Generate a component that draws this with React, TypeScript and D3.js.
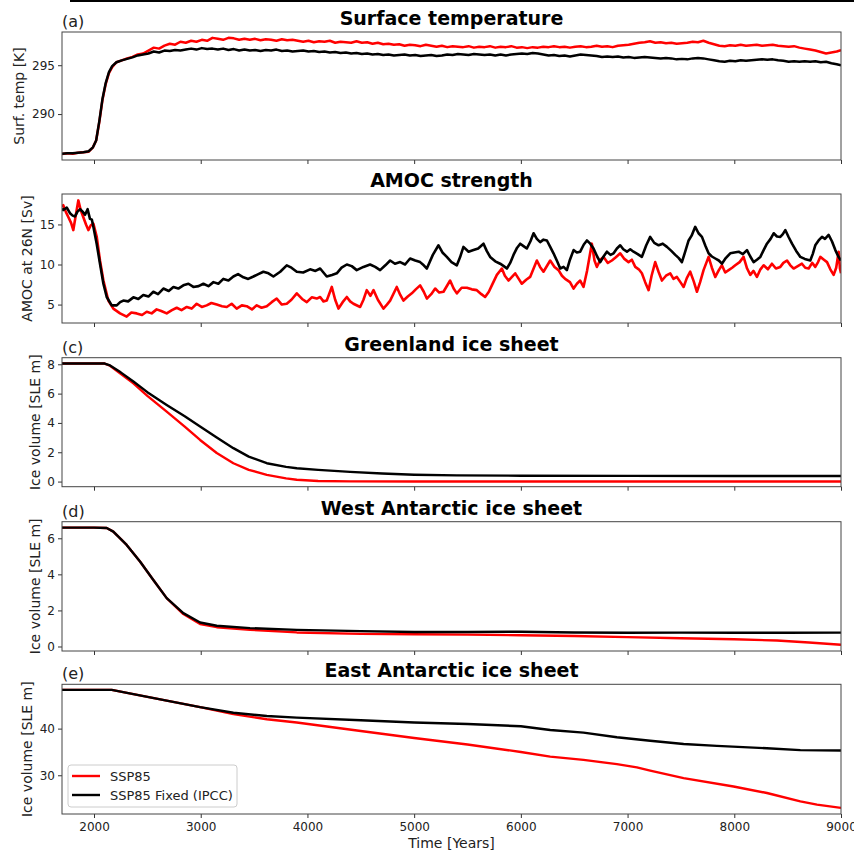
import React, { useRef, useEffect } from 'react';
import * as d3 from 'd3';

// x axis
const xTicks = [2000, 3000, 4000, 5000, 6000, 7000, 8000, 9000];

// (a) surface temperature [K], [year, value]
const tempRed = [
  [1700, 285.9], [1750, 286.0], [1800, 285.95], [1850, 286.05], [1900, 286.1], [1950, 286.15], [1990, 286.6],
  [2020, 287.3], [2050, 289.2], [2080, 291.5], [2110, 293.1], [2140, 294.2], [2170, 294.8], [2210, 295.3],
  [2260, 295.5], [2310, 295.7], [2360, 295.85], [2410, 296.1], [2460, 296.2], [2510, 296.5], [2560, 296.8],
  [2610, 296.7], [2660, 297.0], [2710, 297.2], [2760, 297.1], [2810, 297.4], [2860, 297.3], [2910, 297.5],
  [2960, 297.4], [3010, 297.6], [3060, 297.5], [3110, 297.8], [3160, 297.7], [3210, 297.6], [3260, 297.8],
  [3310, 297.75], [3360, 297.6], [3410, 297.7], [3460, 297.6], [3510, 297.7], [3560, 297.55], [3610, 297.65],
  [3660, 297.6], [3710, 297.5], [3760, 297.65], [3810, 297.55], [3860, 297.6], [3910, 297.5], [3960, 297.4],
  [4010, 297.5], [4060, 297.35], [4110, 297.45], [4160, 297.4], [4210, 297.5], [4260, 297.3], [4310, 297.4],
  [4360, 297.35], [4410, 297.3], [4460, 297.45], [4510, 297.3], [4560, 297.35], [4610, 297.2], [4660, 297.3],
  [4710, 297.15], [4760, 297.2], [4810, 297.1], [4860, 297.15], [4910, 297.0], [4960, 297.1], [5010, 297.05],
  [5060, 296.95], [5110, 297.1], [5160, 297.0], [5210, 296.9], [5260, 297.0], [5310, 296.85], [5360, 296.95],
  [5410, 296.9], [5460, 296.85], [5510, 296.95], [5560, 296.8], [5610, 296.9], [5660, 296.85], [5710, 296.95],
  [5760, 296.8], [5810, 296.9], [5860, 296.85], [5910, 296.95], [5960, 296.8], [6010, 296.85], [6060, 296.75],
  [6110, 296.85], [6160, 296.8], [6210, 296.9], [6260, 296.85], [6310, 296.95], [6360, 296.85], [6410, 296.9],
  [6460, 296.8], [6510, 296.9], [6560, 296.95], [6610, 296.85], [6660, 296.9], [6710, 297.0], [6760, 296.9],
  [6810, 296.95], [6860, 296.85], [6910, 297.0], [6960, 297.05], [7010, 297.1], [7060, 297.2], [7110, 297.3],
  [7160, 297.35], [7210, 297.45], [7260, 297.3], [7310, 297.35], [7360, 297.25], [7410, 297.3], [7460, 297.2],
  [7510, 297.25], [7560, 297.3], [7610, 297.4], [7660, 297.35], [7710, 297.5], [7760, 297.3], [7810, 297.15],
  [7860, 297.0], [7910, 296.95], [7960, 297.05], [8010, 297.0], [8060, 297.1], [8110, 297.0], [8160, 297.05],
  [8210, 297.1], [8260, 297.0], [8310, 297.05], [8360, 297.1], [8410, 297.0], [8460, 296.95], [8510, 296.9],
  [8560, 296.95], [8610, 296.8], [8660, 296.7], [8710, 296.6], [8760, 296.5], [8810, 296.35], [8860, 296.2],
  [8910, 296.3], [8960, 296.4], [9000, 296.55],
];
const tempBlack = [
  [1700, 285.95], [1750, 286.0], [1800, 286.0], [1850, 286.05], [1900, 286.1], [1950, 286.2], [1990, 286.6],
  [2020, 287.3], [2050, 289.3], [2080, 291.6], [2110, 293.2], [2140, 294.3], [2170, 294.9], [2210, 295.3],
  [2260, 295.5], [2310, 295.65], [2360, 295.8], [2410, 296.0], [2460, 296.1], [2510, 296.2], [2560, 296.4],
  [2610, 296.3], [2660, 296.5], [2710, 296.45], [2760, 296.55], [2810, 296.5], [2860, 296.6], [2910, 296.7],
  [2960, 296.6], [3010, 296.75], [3060, 296.65], [3110, 296.7], [3160, 296.6], [3210, 296.7], [3260, 296.55],
  [3310, 296.65], [3360, 296.5], [3410, 296.6], [3460, 296.5], [3510, 296.55], [3560, 296.45], [3610, 296.55],
  [3660, 296.5], [3710, 296.6], [3760, 296.45], [3810, 296.5], [3860, 296.4], [3910, 296.45], [3960, 296.5],
  [4010, 296.4], [4060, 296.45], [4110, 296.35], [4160, 296.4], [4210, 296.3], [4260, 296.35], [4310, 296.25],
  [4360, 296.3], [4410, 296.2], [4460, 296.25], [4510, 296.15], [4560, 296.2], [4610, 296.1], [4660, 296.15],
  [4710, 296.05], [4760, 296.1], [4810, 296.0], [4860, 296.05], [4910, 296.1], [4960, 296.0], [5010, 296.05],
  [5060, 295.95], [5110, 296.0], [5160, 296.05], [5210, 295.95], [5260, 296.0], [5310, 296.1], [5360, 296.05],
  [5410, 296.15], [5460, 296.1], [5510, 296.05], [5560, 296.15], [5610, 296.1], [5660, 296.05], [5710, 296.1],
  [5760, 296.0], [5810, 296.1], [5860, 296.0], [5910, 296.1], [5960, 296.15], [6010, 296.2], [6060, 296.15],
  [6110, 296.25], [6160, 296.2], [6210, 296.1], [6260, 296.0], [6310, 296.05], [6360, 295.95], [6410, 296.0],
  [6460, 295.9], [6510, 296.0], [6560, 296.1], [6610, 296.05], [6660, 296.0], [6710, 295.95], [6760, 295.85],
  [6810, 295.9], [6860, 295.85], [6910, 295.9], [6960, 295.8], [7010, 295.85], [7060, 295.75], [7110, 295.8],
  [7160, 295.85], [7210, 295.8], [7260, 295.75], [7310, 295.7], [7360, 295.75], [7410, 295.7], [7460, 295.6],
  [7510, 295.65], [7560, 295.6], [7610, 295.7], [7660, 295.75], [7710, 295.7], [7760, 295.6], [7810, 295.5],
  [7860, 295.4], [7910, 295.35], [7960, 295.45], [8010, 295.4], [8060, 295.5], [8110, 295.45], [8160, 295.5],
  [8210, 295.55], [8260, 295.6], [8310, 295.55], [8360, 295.6], [8410, 295.5], [8460, 295.45], [8510, 295.35],
  [8560, 295.4], [8610, 295.35], [8660, 295.4], [8710, 295.35], [8760, 295.4], [8810, 295.3], [8860, 295.35],
  [8910, 295.2], [8960, 295.1], [9000, 295.0],
];

// (b) AMOC at 26N [Sv]
const amocRed = [
  [1700, 17.2], [1712, 17.4], [1735, 16.6], [1760, 15.9], [1785, 15.2], [1806, 14.3], [1830, 16.2], [1853, 18.0],
  [1875, 16.8], [1900, 15.9], [1925, 15.0], [1947, 14.3], [1970, 14.9], [1994, 15.1], [2025, 13.5], [2056, 10.5],
  [2088, 8.0], [2134, 5.5], [2181, 4.5], [2244, 3.9], [2306, 3.5], [2350, 4.0], [2400, 3.9], [2450, 3.7],
  [2494, 4.1], [2540, 3.9], [2587, 4.4], [2630, 4.2], [2681, 3.9], [2730, 4.3], [2775, 4.6], [2820, 4.3],
  [2869, 4.7], [2915, 4.5], [2962, 5.1], [3010, 4.7], [3056, 4.9], [3100, 5.2], [3150, 5.0], [3200, 4.8],
  [3244, 4.7], [3290, 5.1], [3337, 4.5], [3385, 4.9], [3431, 4.8], [3480, 4.4], [3525, 4.9], [3570, 4.6],
  [3619, 4.8], [3665, 5.3], [3712, 5.75], [3760, 5.0], [3806, 5.1], [3850, 5.6], [3900, 6.4], [3950, 5.7],
  [3994, 5.3], [4040, 5.9], [4087, 5.75], [4119, 5.95], [4150, 5.4], [4181, 5.5], [4228, 7.2], [4260, 5.6],
  [4291, 4.5], [4330, 5.3], [4369, 5.95], [4400, 5.4], [4431, 5.1], [4494, 4.7], [4525, 5.6], [4556, 6.8],
  [4590, 6.1], [4619, 6.8], [4660, 5.6], [4712, 4.5], [4745, 5.0], [4775, 5.5], [4837, 7.2], [4870, 6.2],
  [4900, 5.5], [4940, 6.0], [4978, 6.4], [5015, 6.9], [5056, 7.4], [5090, 6.6], [5119, 5.75], [5160, 6.3],
  [5197, 7.0], [5235, 6.5], [5275, 6.6], [5337, 8.0], [5370, 7.0], [5400, 6.4], [5445, 7.1], [5494, 7.1],
  [5540, 6.9], [5587, 6.8], [5630, 6.3], [5665, 5.95], [5700, 6.6], [5728, 7.4], [5775, 8.7], [5822, 9.5],
  [5850, 8.6], [5884, 8.0], [5947, 8.9], [5980, 8.2], [6009, 7.6], [6050, 8.1], [6087, 8.45], [6150, 10.5],
  [6180, 9.7], [6212, 9.1], [6275, 10.5], [6315, 9.7], [6353, 9.3], [6385, 8.6], [6415, 8.2], [6460, 7.8],
  [6494, 7.0], [6525, 7.6], [6556, 8.0], [6587, 7.2], [6620, 9.2], [6665, 12.6], [6690, 10.5], [6712, 9.7],
  [6745, 10.6], [6775, 10.95], [6815, 10.2], [6853, 10.5], [6890, 10.9], [6931, 11.4], [6970, 10.7],
  [7009, 10.3], [7040, 10.6], [7072, 9.7], [7105, 9.4], [7134, 8.9], [7165, 7.8], [7197, 6.8], [7225, 8.6],
  [7259, 10.3], [7290, 9.1], [7322, 8.0], [7360, 8.6], [7400, 8.9], [7430, 8.2], [7462, 8.45], [7495, 7.8],
  [7525, 7.2], [7555, 8.3], [7587, 9.1], [7620, 7.9], [7650, 6.6], [7680, 7.8], [7712, 9.3], [7759, 10.95],
  [7790, 9.6], [7822, 8.45], [7855, 9.3], [7884, 9.9], [7915, 9.0], [7947, 9.3], [7980, 9.6], [8009, 9.9],
  [8050, 10.3], [8087, 10.95], [8120, 9.5], [8150, 8.7], [8180, 9.2], [8212, 8.45], [8245, 9.4], [8275, 9.9],
  [8315, 9.4], [8353, 10.1], [8390, 9.5], [8431, 9.7], [8460, 10.2], [8494, 10.5], [8525, 9.9], [8556, 9.5],
  [8595, 9.8], [8634, 10.1], [8665, 9.6], [8697, 9.5], [8730, 10.2], [8759, 9.7], [8785, 10.3], [8806, 10.95],
  [8840, 10.6], [8869, 10.3], [8900, 9.4], [8931, 8.7], [8955, 9.6], [8978, 11.6], [8990, 9.5], [9000, 8.9],
];
const amocBlack = [
  [1700, 17.0], [1712, 16.8], [1745, 17.1], [1775, 16.4], [1800, 16.1], [1822, 16.0], [1845, 16.6], [1870, 16.9],
  [1893, 16.6], [1916, 16.2], [1940, 16.9], [1962, 15.7], [1980, 15.6], [1994, 14.7], [2025, 12.6], [2056, 10.1],
  [2088, 7.6], [2119, 5.95], [2166, 4.9], [2213, 4.9], [2245, 5.3], [2275, 5.5], [2320, 5.4], [2369, 5.9],
  [2415, 5.7], [2462, 6.2], [2510, 6.0], [2556, 6.6], [2600, 6.3], [2650, 7.0], [2700, 6.7], [2744, 7.2],
  [2790, 7.0], [2837, 7.4], [2885, 7.6], [2931, 7.2], [2980, 7.3], [3025, 7.6], [3072, 7.3], [3119, 7.8],
  [3165, 7.6], [3212, 8.2], [3260, 8.0], [3306, 8.5], [3350, 8.8], [3400, 8.4], [3445, 8.2], [3494, 8.5],
  [3540, 8.8], [3587, 9.1], [3635, 8.9], [3681, 8.5], [3745, 9.1], [3806, 9.9], [3850, 9.6], [3900, 9.1],
  [3960, 9.0], [4025, 9.4], [4075, 9.2], [4119, 9.5], [4150, 9.0], [4181, 8.5], [4230, 8.7], [4275, 8.9],
  [4320, 9.6], [4369, 10.0], [4415, 9.8], [4462, 9.3], [4525, 9.7], [4587, 10.0], [4635, 9.7], [4681, 9.3],
  [4730, 9.9], [4775, 10.5], [4820, 10.1], [4869, 10.3], [4915, 10.0], [4962, 10.75], [5010, 10.5],
  [5056, 10.3], [5090, 9.9], [5119, 9.5], [5175, 11.2], [5228, 12.4], [5265, 11.5], [5306, 10.95], [5350, 10.3],
  [5400, 9.9], [5430, 10.9], [5462, 12.2], [5510, 11.6], [5556, 11.8], [5600, 12.0], [5650, 12.6], [5680, 11.7],
  [5712, 10.95], [5760, 10.4], [5806, 10.1], [5840, 9.8], [5869, 9.5], [5900, 10.2], [5931, 11.2], [5965, 12.1],
  [5994, 12.6], [6025, 12.3], [6056, 12.0], [6090, 12.9], [6119, 13.9], [6150, 13.2], [6181, 12.8], [6212, 13.1],
  [6244, 13.0], [6275, 12.2], [6306, 11.4], [6340, 10.4], [6369, 9.5], [6400, 9.7], [6431, 9.3], [6460, 10.6],
  [6494, 11.8], [6525, 11.5], [6556, 11.6], [6590, 12.5], [6619, 13.0], [6650, 12.6], [6681, 12.0], [6715, 11.0],
  [6744, 10.3], [6775, 11.0], [6806, 11.6], [6840, 11.2], [6869, 11.4], [6900, 12.0], [6931, 12.4], [6960, 11.9],
  [6994, 11.6], [7025, 11.9], [7056, 11.6], [7095, 11.3], [7134, 10.95], [7175, 12.4], [7212, 13.45],
  [7250, 12.7], [7291, 12.4], [7330, 12.6], [7369, 12.2], [7410, 11.7], [7447, 11.2], [7480, 10.8], [7509, 10.3],
  [7540, 11.6], [7572, 13.0], [7600, 13.6], [7634, 14.7], [7665, 13.9], [7697, 13.45], [7730, 12.3],
  [7759, 11.4], [7790, 11.0], [7822, 10.75], [7855, 10.5], [7884, 10.1], [7920, 10.8], [7962, 11.4],
  [8000, 11.5], [8041, 11.6], [8080, 11.3], [8119, 11.8], [8150, 11.0], [8181, 10.3], [8212, 10.6], [8244, 10.95],
  [8275, 11.8], [8306, 12.6], [8340, 13.2], [8369, 13.9], [8400, 13.5], [8431, 13.45], [8455, 13.8],
  [8478, 14.3], [8510, 13.4], [8541, 12.6], [8580, 11.7], [8619, 10.95], [8660, 10.7], [8712, 10.5], [8735, 11.3],
  [8759, 12.4], [8790, 13.0], [8822, 13.45], [8850, 13.2], [8884, 13.7], [8915, 12.9], [8947, 11.8],
  [8975, 11.0], [9000, 10.5],
];

// (c) Greenland ice volume [SLE m]
const grisRed = [
  [1700, 8.05], [2000, 8.05], [2100, 8.05], [2150, 7.9], [2250, 7.35], [2369, 6.7], [2500, 5.85], [2681, 4.77],
  [2850, 3.75], [2994, 2.84], [3150, 1.95], [3306, 1.25], [3450, 0.8], [3619, 0.46], [3800, 0.22], [3900, 0.12],
  [4100, 0.04], [4400, 0.01], [5000, 0.0], [6000, 0.0], [7000, 0.0], [8000, 0.0], [9000, 0.0],
];
const grisBlack = [
  [1700, 8.05], [2000, 8.05], [2100, 8.05], [2150, 7.92], [2250, 7.45], [2369, 6.82], [2500, 6.1], [2681, 5.23],
  [2850, 4.45], [2994, 3.75], [3150, 3.0], [3306, 2.28], [3450, 1.7], [3619, 1.25], [3800, 1.0], [3900, 0.91],
  [4100, 0.8], [4400, 0.66], [4700, 0.55], [5000, 0.47], [5400, 0.42], [6000, 0.4], [7000, 0.39], [8000, 0.38],
  [9000, 0.38],
];

// (d) West Antarctic ice volume [SLE m]
const waisRed = [
  [1700, 6.59], [2000, 6.59], [2119, 6.57], [2181, 6.37], [2306, 5.63], [2431, 4.71], [2556, 3.69], [2681, 2.68],
  [2837, 1.8], [2994, 1.25], [3150, 1.07], [3462, 0.93], [3900, 0.78], [4500, 0.7], [5000, 0.68], [5500, 0.66],
  [6000, 0.62], [6500, 0.58], [7000, 0.52], [7500, 0.46], [8000, 0.4], [8400, 0.33], [8700, 0.22], [9000, 0.1],
];
const waisBlack = [
  [1700, 6.59], [2000, 6.59], [2119, 6.57], [2181, 6.37], [2306, 5.63], [2431, 4.71], [2556, 3.69], [2681, 2.68],
  [2837, 1.85], [2994, 1.33], [3150, 1.15], [3462, 1.02], [3900, 0.92], [4500, 0.85], [5000, 0.8], [5500, 0.8],
  [6000, 0.82], [6500, 0.78], [7000, 0.76], [7500, 0.77], [8000, 0.76], [8500, 0.76], [9000, 0.77],
];

// (e) East Antarctic ice volume [SLE m]
const eaisRed = [
  [1700, 48.3], [2000, 48.3], [2166, 48.3], [2369, 47.4], [2681, 46.0], [2994, 44.6], [3306, 43.1], [3619, 42.0],
  [3900, 41.3], [4500, 39.5], [5000, 38.0], [5500, 36.6], [6000, 35.0], [6275, 34.0], [6587, 33.3], [6900, 32.4],
  [7087, 31.7], [7212, 31.0], [7525, 29.4], [7993, 27.6], [8306, 26.2], [8619, 24.4], [8775, 23.7], [9000, 23.0],
];
const eaisBlack = [
  [1700, 48.3], [2000, 48.3], [2166, 48.3], [2369, 47.4], [2681, 46.0], [2994, 44.6], [3306, 43.4], [3619, 42.7],
  [3900, 42.35], [4500, 41.8], [5000, 41.3], [5500, 41.0], [6000, 40.5], [6275, 39.7], [6587, 39.15],
  [6900, 38.15], [7212, 37.4], [7525, 36.7], [7837, 36.3], [8306, 35.8], [8619, 35.4], [9000, 35.3],
];

const legendLabels = ['SSP85', 'SSP85 Fixed (IPCC)'];

const App = () => {
  const svgRef = useRef(null);

  useEffect(() => {
    const width = 854;
    const height = 852;
    const left = 62;
    const right = 841;
    const font = 'DejaVu Sans, sans-serif';

    const svg = d3.select(svgRef.current);
    svg.selectAll('*').remove();
    svg.attr('width', width).attr('height', height);

    svg.append('rect').attr('width', width).attr('height', height).attr('fill', '#fff');
    // cut-off frame edge at the very top
    svg.append('rect').attr('x', 70).attr('y', 0).attr('width', 784).attr('height', 2).attr('fill', '#000');

    const x = d3.scaleLinear().domain([1700, 9000]).range([left, right]);

    const panels = [
      { top: 32, bottom: 160, domain: [285.3, 298.4], ticks: [290, 295], red: tempRed, black: tempBlack,
        title: 'Surface temperature', label: '(a)', ylabel: 'Surf. temp [K]', ylx: 18.5, sw: 2.5 },
      { top: 194, bottom: 323, domain: [2.7, 18.8], ticks: [5, 10, 15], red: amocRed, black: amocBlack,
        title: 'AMOC strength', label: '', ylabel: 'AMOC at 26N [Sv]', ylx: 26.5, sw: 2.6 },
      { top: 357.7, bottom: 486.7, domain: [-0.35, 8.45], ticks: [0, 2, 4, 6, 8], red: grisRed, black: grisBlack,
        title: 'Greenland ice sheet', label: '(c)', ylabel: 'Ice volume [SLE m]', ylx: 35, sw: 2.4 },
      { top: 521.7, bottom: 651, domain: [-0.25, 6.92], ticks: [0, 2, 4, 6], red: waisRed, black: waisBlack,
        title: 'West Antarctic ice sheet', label: '(d)', ylabel: 'Ice volume [SLE m]', ylx: 35, sw: 2.4 },
      { top: 684.3, bottom: 814, domain: [21.7, 49.5], ticks: [30, 40], red: eaisRed, black: eaisBlack,
        title: 'East Antarctic ice sheet', label: '(e)', ylabel: 'Ice volume [SLE m]', ylx: 26.5, sw: 2.4 },
    ];

    panels.forEach((p, i) => {
      const y = d3.scaleLinear().domain(p.domain).range([p.bottom, p.top]);
      const g = svg.append('g');
      const isLast = i === panels.length - 1;

      // x axis ticks
      const xAxis = g.append('g')
        .attr('transform', `translate(0,${p.bottom})`)
        .call(d3.axisBottom(x).tickValues(xTicks).tickSize(4).tickPadding(4)
          .tickFormat(isLast ? d3.format('d') : () => ''));
      xAxis.select('.domain').remove();
      xAxis.selectAll('line').attr('stroke', '#333');
      xAxis.selectAll('text').attr('font-family', font).attr('font-size', 12).attr('fill', '#222');

      // y axis
      const yAxis = g.append('g')
        .attr('transform', `translate(${left},0)`)
        .call(d3.axisLeft(y).tickValues(p.ticks).tickSize(4).tickPadding(3).tickFormat(d3.format('d')));
      yAxis.select('.domain').remove();
      yAxis.selectAll('line').attr('stroke', '#333');
      yAxis.selectAll('text').attr('font-family', font).attr('font-size', 12).attr('fill', '#222');

      const clipId = `clip-${i}`;
      svg.append('clipPath').attr('id', clipId)
        .append('rect').attr('x', left).attr('y', p.top).attr('width', right - left).attr('height', p.bottom - p.top);

      const line = d3.line()
        .x(d => x(d[0]))
        .y(d => y(d[1]));

      g.append('path').datum(p.red)
        .attr('clip-path', `url(#${clipId})`)
        .attr('fill', 'none').attr('stroke', '#ff0000').attr('stroke-width', p.sw)
        .attr('stroke-linejoin', 'round').attr('d', line);
      g.append('path').datum(p.black)
        .attr('clip-path', `url(#${clipId})`)
        .attr('fill', 'none').attr('stroke', '#000').attr('stroke-width', p.sw)
        .attr('stroke-linejoin', 'round').attr('d', line);

      // frame
      g.append('rect')
        .attr('x', left).attr('y', p.top)
        .attr('width', right - left).attr('height', p.bottom - p.top)
        .attr('fill', 'none').attr('stroke', '#444').attr('stroke-width', 1);

      // title
      g.append('text')
        .attr('x', (left + right) / 2).attr('y', p.top - 7)
        .attr('text-anchor', 'middle')
        .attr('font-family', font).attr('font-size', 19).attr('font-weight', 'bold')
        .text(p.title);

      if (p.label) {
        g.append('text')
          .attr('x', left).attr('y', p.top - 5)
          .attr('font-family', font).attr('font-size', 16).attr('fill', '#222')
          .text(p.label);
      }

      g.append('text')
        .attr('transform', `translate(${p.ylx},${(p.top + p.bottom) / 2}) rotate(-90)`)
        .attr('text-anchor', 'middle').attr('dominant-baseline', 'central')
        .attr('font-family', font).attr('font-size', 14).attr('fill', '#222')
        .text(p.ylabel);

      if (isLast) {
        // legend
        const lg = g.append('g');
        lg.append('rect')
          .attr('x', 68).attr('y', 765).attr('width', 169).attr('height', 42)
          .attr('rx', 3).attr('fill', '#fff').attr('fill-opacity', 0.8)
          .attr('stroke', '#ccc');
        legendLabels.forEach((lab, k) => {
          const ly = 776 + k * 19;
          lg.append('line')
            .attr('x1', 72).attr('x2', 100).attr('y1', ly).attr('y2', ly)
            .attr('stroke', k === 0 ? '#ff0000' : '#000').attr('stroke-width', 2.4);
          lg.append('text')
            .attr('x', 110).attr('y', ly).attr('dominant-baseline', 'central')
            .attr('font-family', font).attr('font-size', 13).attr('fill', '#222')
            .text(lab);
        });

        g.append('text')
          .attr('x', (left + right) / 2).attr('y', 848)
          .attr('text-anchor', 'middle')
          .attr('font-family', font).attr('font-size', 14).attr('fill', '#222')
          .text('Time [Years]');
      }
    });
  }, []);

  return <svg ref={svgRef} style={{ display: 'block', position: 'absolute', left: 0, top: 0 }}></svg>;
};

export default App;
